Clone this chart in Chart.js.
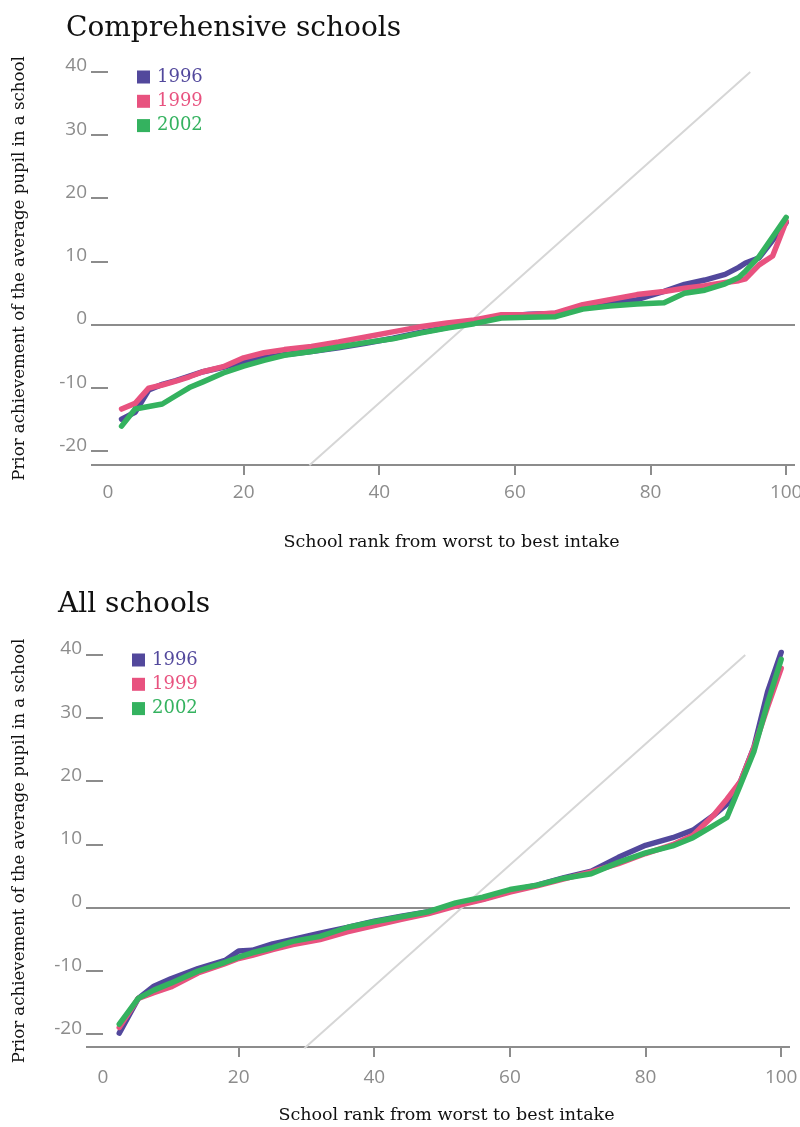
<!DOCTYPE html>
<html>
<head>
<meta charset="utf-8">
<title>School intake rank</title>
<script src="https://cdn.jsdelivr.net/npm/chart.js@4.4.1/dist/chart.umd.min.js"></script>
<style>
  html, body { margin: 0; padding: 0; background: #fff; overflow: hidden; }
  body { width: 800px; height: 1127px; position: relative; }
  .chart-title {
    position: absolute; margin: 0; font-weight: normal; color: #111;
    font-family: "DejaVu Serif", serif; font-size: 28px; line-height: 28px;
  }
  .chart-box { position: absolute; left: 0; width: 800px; }
</style>
</head>
<body>
<div class="chart-box" style="top:0; height:560px"><canvas id="compChart"></canvas></div>
<div class="chart-box" style="top:583px; height:544px"><canvas id="allChart"></canvas></div>
<h2 class="chart-title" style="left:66px; top:13px">Comprehensive schools</h2>
<h2 class="chart-title" style="left:58px; top:589px">All schools</h2>
<script>
// data
const years = ["1996", "1999", "2002"];
const yTicks = [-20, -10, 0, 10, 20, 30, 40];
const xTicks = [0, 20, 40, 60, 80, 100];

// comprehensive schools
const compRank = [2, 4, 6, 8, 10, 12, 14, 17, 20, 23, 26, 30, 34, 38, 42, 46, 50, 54, 58, 62, 66, 70, 74, 78, 82, 85, 88, 91, 93, 94, 96, 98, 100];
const comp1996 = [-14.9, -13.8, -10.3, -9.4, -8.8, -8.1, -7.4, -6.7, -5.8, -5.2, -4.7, -4.2, -3.6, -2.9, -2.1, -1.2, -0.4, 0.4, 1.3, 1.7, 1.8, 2.8, 3.4, 4.0, 5.3, 6.4, 7.1, 8.0, 9.1, 9.8, 10.6, 13.4, 16.2];
const comp1999 = [-13.3, -12.4, -10.0, -9.5, -8.9, -8.2, -7.4, -6.6, -5.2, -4.4, -3.9, -3.4, -2.7, -1.9, -1.1, -0.3, 0.3, 0.8, 1.6, 1.6, 1.9, 3.2, 4.0, 4.8, 5.3, 5.8, 6.2, 6.7, 7.0, 7.3, 9.5, 10.9, 16.4];
const comp2002 = [-16.0, -13.3, -12.9, -12.5, -11.2, -9.9, -9.0, -7.6, -6.5, -5.6, -4.8, -4.2, -3.5, -2.8, -2.2, -1.3, -0.5, 0.2, 1.1, 1.2, 1.3, 2.5, 3.0, 3.3, 3.5, 5.0, 5.5, 6.5, 7.5, 8.5, 10.8, 13.9, 17.0];

// all schools
const allRank = [2.4, 5.2, 7.5, 10, 14, 18, 20, 22, 25, 28, 32, 36, 40, 44, 48, 52, 56, 60, 64, 68, 72, 76, 80, 84, 87, 90, 92, 94, 96, 98, 100];
const all1996 = [-19.8, -14.3, -12.4, -11.2, -9.6, -8.3, -6.8, -6.7, -5.7, -5.0, -4.0, -3.1, -2.1, -1.3, -0.6, 0.5, 1.4, 2.7, 3.6, 4.8, 5.8, 8.0, 9.9, 11.1, 12.3, 14.6, 16.4, 20.0, 25.5, 34.2, 40.4];
const all1999 = [-18.9, -14.3, -13.4, -12.5, -10.3, -8.8, -8.0, -7.5, -6.6, -5.8, -5.0, -3.8, -2.8, -1.8, -0.9, 0.3, 1.3, 2.5, 3.5, 4.6, 5.7, 7.0, 8.6, 10.0, 11.5, 14.6, 17.2, 20.0, 25.4, 31.8, 37.9];
const all2002 = [-18.4, -14.3, -13.0, -11.9, -10.0, -8.6, -7.8, -7.1, -6.3, -5.3, -4.5, -3.1, -2.2, -1.4, -0.6, 0.8, 1.7, 2.9, 3.6, 4.7, 5.4, 7.2, 8.7, 9.8, 11.1, 13.0, 14.3, 19.5, 24.8, 32.4, 39.3];

// grey reference diagonal
const diagonalRank = [29.7, 94.7];
const diagonalValue = [-22.2, 40];

const yearColors = ["#52489c", "#e8527f", "#34b25f"];
const axisGrey = "#8c8c8c";
const tickFont = { family: "'Open Sans', sans-serif", size: 19 };
const serif = "'DejaVu Serif', serif";

// legend drawn in the top left corner of the plot
const yearLegend = {
    id: "yearLegend",
    afterDatasetsDraw(chart) {
        const { ctx, chartArea } = chart;
        ctx.save();
        ctx.font = "18px " + serif;
        ctx.textBaseline = "middle";
        years.forEach(function (year, i) {
            const y = chartArea.top + 5 + i * 24.3;
            ctx.fillStyle = yearColors[i];
            ctx.fillRect(chartArea.left + 29, y - 6.5, 13, 13);
            ctx.fillText(year, chartArea.left + 49, y);
        });
        ctx.restore();
    }
};

function makeChart(id, rank, series, cfg) {
    const datasets = series.map(function (values, i) {
        return {
            label: years[i],
            data: rank.map((r, j) => ({ x: r, y: values[j] })),
            borderColor: yearColors[i],
            backgroundColor: yearColors[i],
            borderWidth: 5.5,
            borderJoinStyle: "round",
            borderCapStyle: "round",
            pointRadius: 0,
            tension: 0,
            fill: false,
            clip: false,
            order: 3 - i
        };
    });
    datasets.push({
        label: "diagonal",
        data: diagonalRank.map((r, j) => ({ x: r, y: diagonalValue[j] })),
        borderColor: "#d6d6d6",
        borderWidth: 2,
        pointRadius: 0,
        fill: false,
        clip: false,
        order: 10
    });

    return new Chart(document.getElementById(id), {
        type: "line",
        data: { datasets: datasets },
        plugins: [yearLegend],
        options: {
            responsive: true,
            maintainAspectRatio: false,
            animation: false,
            layout: { padding: { top: 72, right: cfg.right, left: 0, bottom: 0 } },
            plugins: { legend: { display: false }, tooltip: { enabled: false } },
            scales: {
                x: {
                    type: "linear",
                    min: 0,
                    max: 101.3,
                    afterBuildTicks: s => { s.ticks = xTicks.map(v => ({ value: v })); },
                    afterFit: s => { s.height = cfg.xHeight; s.paddingLeft = 0; s.paddingRight = 0; },
                    border: { display: false },
                    grid: {
                        drawOnChartArea: false,
                        tickLength: 10,
                        lineWidth: 2,
                        tickColor: c => (c.tick && c.tick.value === 0) ? "rgba(0,0,0,0)" : axisGrey
                    },
                    ticks: { font: tickFont, color: axisGrey, padding: cfg.xPad, maxRotation: 0, autoSkip: false },
                    title: {
                        display: true,
                        text: "School rank from worst to best intake",
                        font: { family: serif, size: 17.5 },
                        color: "#111",
                        padding: { top: 0, bottom: cfg.xTitlePad }
                    }
                },
                y: {
                    type: "linear",
                    min: cfg.yMin,
                    max: 40,
                    afterBuildTicks: s => { s.ticks = [cfg.yMin].concat(yTicks).map(v => ({ value: v })); },
                    afterFit: s => { s.width = cfg.left; },
                    border: { display: false },
                    grid: {
                        lineWidth: 2,
                        tickLength: 17,
                        color: c => (c.tick && (c.tick.value === 0 || c.tick.value === cfg.yMin)) ? axisGrey : "rgba(0,0,0,0)",
                        tickColor: axisGrey
                    },
                    ticks: {
                        font: tickFont,
                        color: axisGrey,
                        padding: 4,
                        labelOffset: -6,
                        autoSkip: false,
                        callback: v => yTicks.includes(v) ? String(v) : ""
                    },
                    title: {
                        display: true,
                        text: "Prior achievement of the average pupil in a school",
                        font: { family: serif, size: 16.6 },
                        color: "#111",
                        padding: { top: 10, bottom: 0 }
                    }
                }
            }
        }
    });
}

makeChart("compChart", compRank, [comp1996, comp1999, comp2002],
    { left: 108, right: 5, xHeight: 95, xPad: 6, xTitlePad: 7, yMin: -22.15 });
makeChart("allChart", allRank, [all1996, all1999, all2002],
    { left: 103, right: 10, xHeight: 80, xPad: 9, xTitlePad: 1, yMin: -22 });
</script>
</body>
</html>
